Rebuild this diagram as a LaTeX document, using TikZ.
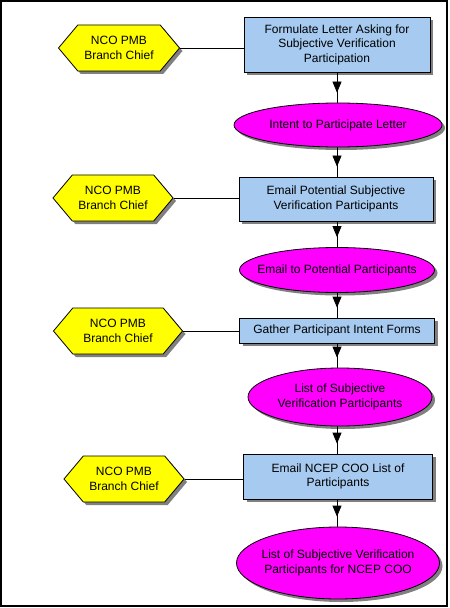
\documentclass[tikz,border=0pt]{standalone}
\usepackage{fontspec}
\setmainfont{Liberation Sans}
\usetikzlibrary{arrows.meta, shapes.geometric, shapes.symbols, shadows, decorations.markings}

\definecolor{taskblue}{RGB}{166,202,240}
\definecolor{outmagenta}{RGB}{255,0,255}
\definecolor{chiefyellow}{RGB}{255,255,0}

\tikzset{
  boxshadow/.style={drop shadow={shadow xshift=3bp, shadow yshift=-3bp, fill=black!50, opacity=1}},
  actor/.style={signal, signal to=west and east, signal pointer angle=100, draw,
    line width=0.8bp, fill=chiefyellow, boxshadow, align=center, inner sep=0pt},
  task/.style={rectangle, draw, line width=0.8bp, fill=taskblue, boxshadow,
    align=center, inner sep=0pt},
  output/.style={ellipse, draw, line width=0.8bp, fill=outmagenta, boxshadow,
    align=center, inner xsep=-25bp, inner ysep=0pt},
  link/.style={line width=0.8bp},
  flow/.style={line width=0.8bp, postaction={decorate},
    decoration={markings, mark=at position -10bp with {\arrow{Triangle[length=11bp, width=9bp]}}}}
}

\begin{document}
\begin{tikzpicture}[x=1bp, y=-1bp, font=\fontsize{12bp}{14.5bp}\selectfont]
  \useasboundingbox (0,0) rectangle (450,608);
  \draw[line width=2bp] (1,1) rectangle (447,606);

  % process steps and their products
  \node[task, minimum width=186bp, minimum height=55bp] (task1) at (337,44.5)
    {Formulate Letter Asking for\\Subjective Verification\\Participation};
  \node[output, minimum width=208bp, minimum height=44bp] (out1) at (338,125)
    {Intent to Participate Letter};
  \node[task, minimum width=194bp, minimum height=44bp] (task2) at (336,199)
    {Email Potential Subjective\\Verification Participants};
  \node[output, minimum width=195bp, minimum height=45bp] (out2) at (337,270)
    {Email to Potential Participants};
  \node[task, minimum width=195bp, minimum height=25bp] (task3) at (337,330.5)
    {Gather Participant Intent Forms};
  \node[output, minimum width=184bp, minimum height=58bp] (out3) at (340,397)
    {List of Subjective\\Verification Participants};
  \node[task, minimum width=189bp, minimum height=45bp] (task4) at (338,476.5)
    {Email NCEP COO List of\\Participants};
  \node[output, minimum width=203bp, minimum height=72bp] (out4) at (338,563)
    {List of Subjective Verification\\Participants for NCEP COO};

  % who does each step
  \foreach \n/\cx/\cy/\w in {1/119/48/121, 2/113/198/120, 3/118/331/129, 4/124/479/120}{
    \node[actor, minimum width=\w bp, minimum height=46bp] (chief\n) at (\cx,\cy)
      {NCO PMB\\Branch Chief};
    \draw[link] (chief\n.east) -- (chief\n.east -| task\n.west);
  }

  % flow down the column
  \foreach \a/\b in {task1/out1, out1/task2, task2/out2, out2/task3,
                     task3/out3, out3/task4, task4/out4}{
    \draw[flow] (\a.south -| task1.south) -- (\b.north -| task1.south);
  }
\end{tikzpicture}
\end{document}
